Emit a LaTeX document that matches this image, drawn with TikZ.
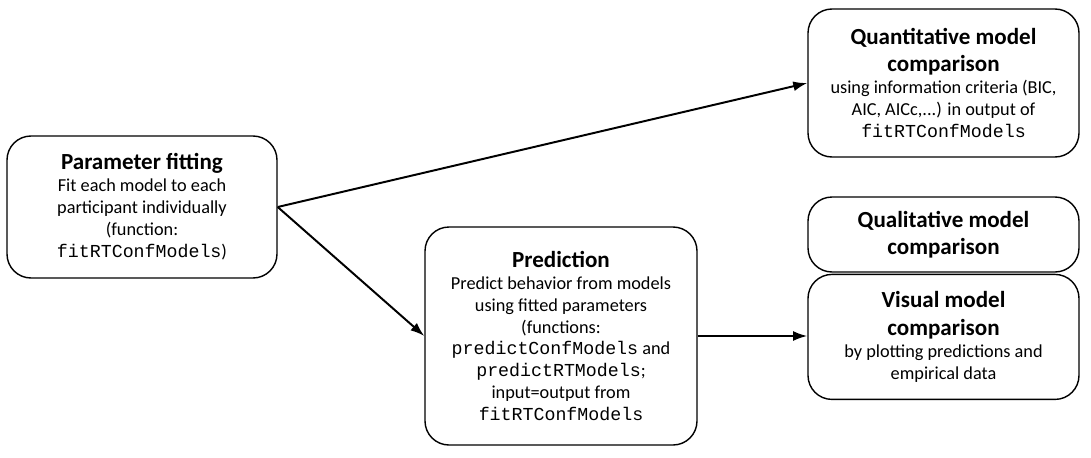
\documentclass[tikz,border=0pt]{standalone}
\usepackage{fontspec}
\setmainfont{Carlito}
\setmonofont{Liberation Mono}
\usetikzlibrary{positioning}
\usetikzlibrary{arrows.meta}

\newcommand{\stagetitle}[1]{{\fontsize{16.4}{19.6}\selectfont\bfseries #1}}

\begin{document}
\begin{tikzpicture}[align=center, line width=1pt, font=\fontsize{13}{15.6}\selectfont,
    stage/.style={draw, rounded corners=0.6cm, minimum width=6.775cm, inner sep=2pt},
    arrow/.style={-{Latex[length=10pt, width=7pt]}, line width=1.4pt}]
        \useasboundingbox (0,0) rectangle (27.275,-11.425);

        \node[stage, minimum width=6.75cm, minimum height=3.55cm] (fit) at (3.55,-5.175)
            {\stagetitle{Parameter fitting}\\Fit each model to each\\participant individually\\(function:\\\texttt{fitRTConfModels})};
        \node[stage, minimum width=6.8cm, minimum height=5.45cm] (pred) at (14.025,-8.4)
            {\stagetitle{Prediction}\\Predict behavior from models\\using fitted parameters\\(functions:\\\texttt{predictConfModels} and\\\texttt{predictRTModels};\\input=output from\\\texttt{fitRTConfModels}};
        \node[stage, minimum height=3.7cm] (quant) at (23.5875,-2.075)
            {\stagetitle{Quantitative model}\\[4pt]\stagetitle{comparison}\\using information criteria (BIC,\\AIC, AICc,...) in output of\\\texttt{fitRTConfModels}};
        \node[stage, minimum height=1.875cm] (qual) at (23.5875,-5.8625)
            {\stagetitle{Qualitative model}\\[4pt]\stagetitle{comparison}};
        \node[stage, minimum height=3.125cm, below=0.025cm of qual] (vis)
            {\stagetitle{Visual model}\\[4pt]\stagetitle{comparison}\\by plotting predictions and\\empirical data};

        \draw[arrow] (fit.east) -- (quant.west);
        \draw[arrow] (fit.east) -- (pred.west);
        \draw[arrow] (pred.east) -- (pred.east -| vis.west);
    \end{tikzpicture}
\end{document}
